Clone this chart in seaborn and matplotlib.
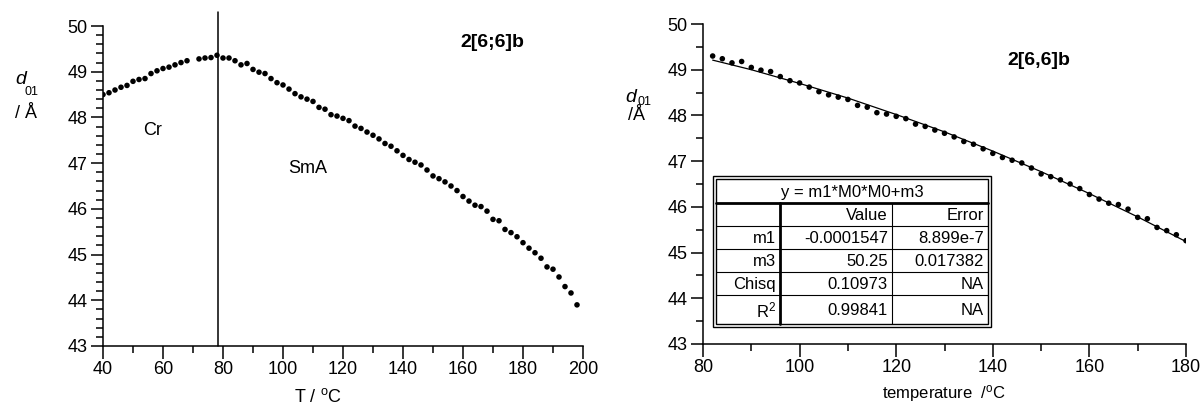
import numpy as np
import pandas as pd
import matplotlib
matplotlib.use("Agg")
import matplotlib.pyplot as plt
from matplotlib.ticker import MultipleLocator
import seaborn as sns

# temperature (°C) and layer spacing d01 (Å)
temp = [40, 42, 44, 46, 48, 50, 52, 54, 56, 58, 60, 62, 64, 66, 68,
        72, 74, 76, 78, 80, 82, 84, 86, 88, 90, 92, 94, 96, 98, 100,
        102, 104, 106, 108, 110, 112, 114, 116, 118, 120, 122, 124, 126, 128, 130,
        132, 134, 136, 138, 140, 142, 144, 146, 148, 150, 152, 154, 156, 158, 160,
        162, 164, 166, 168, 170, 172, 174, 176, 178, 180, 182, 184, 186, 188, 190,
        192, 194, 196, 198]
d01 = [48.50, 48.54, 48.60, 48.66, 48.70, 48.79, 48.83, 48.85, 48.96, 49.02,
       49.07, 49.10, 49.15, 49.20, 49.24,
       49.28, 49.30, 49.31, 49.36, 49.30, 49.30, 49.24, 49.15, 49.18, 49.05,
       48.99, 48.96, 48.85, 48.76, 48.71,
       48.62, 48.52, 48.45, 48.40, 48.35, 48.22, 48.18, 48.06, 48.03, 47.98,
       47.93, 47.81, 47.76, 47.68, 47.61,
       47.53, 47.43, 47.37, 47.27, 47.17, 47.08, 47.02, 46.96, 46.85, 46.72,
       46.66, 46.59, 46.50, 46.40, 46.27,
       46.17, 46.08, 46.05, 45.95, 45.77, 45.74, 45.55, 45.48, 45.39, 45.26,
       45.14, 45.04, 44.92, 44.73, 44.68,
       44.51, 44.30, 44.16, 43.90]

# Cr / SmA transition
t_trans = 78.3

# fitted curve in the right panel
fit_t = [82, 90, 100, 110, 120, 130, 140, 150, 160, 170, 180]
fit_d = [49.21, 49.00, 48.70, 48.38, 48.02, 47.64, 47.22, 46.77, 46.29, 45.78, 45.24]

# fit results table
fit_title = "y = m1*M0*M0+m3"
col_heads = ["", "Value", "Error"]
row_names = ["m1", "m3", "Chisq", "R$^2$"]
row_values = ["-0.0001547", "50.25", "0.10973", "0.99841"]
row_errors = ["8.899e-7", "0.017382", "NA", "NA"]

df = pd.DataFrame({"T": temp, "d": d01})
df_fit = df[(df["T"] >= 82) & (df["T"] <= 180)]
curve = pd.DataFrame({"T": fit_t, "d": fit_d})

sns.set_style("ticks")
plt.rcParams["font.family"] = ["Liberation Sans", "DejaVu Sans"]
plt.rcParams["mathtext.fontset"] = "custom"
plt.rcParams["mathtext.rm"] = "Liberation Sans"
plt.rcParams["mathtext.it"] = "Liberation Sans:italic"
plt.rcParams["mathtext.bf"] = "Liberation Sans:bold"
plt.rcParams["text.color"] = "black"
plt.rcParams["axes.labelcolor"] = "black"

W, H = 1202, 409
fig = plt.figure(figsize=(W / 100, H / 100), dpi=100)


def px_axes(x0, x1, top, bottom):
    return fig.add_axes([x0 / W, (H - bottom) / H, (x1 - x0) / W, (bottom - top) / H])


def style_axes(ax, xmaj, xmin, ymaj, ymin):
    sns.despine(ax=ax)
    for s in ["left", "bottom"]:
        ax.spines[s].set_linewidth(1.1)
        ax.spines[s].set_color("black")
    ax.xaxis.set_major_locator(MultipleLocator(xmaj))
    ax.xaxis.set_minor_locator(MultipleLocator(xmin))
    ax.yaxis.set_major_locator(MultipleLocator(ymaj))
    ax.yaxis.set_minor_locator(MultipleLocator(ymin))
    ax.tick_params(which="major", direction="out", length=9, width=1.1,
                   labelsize=13, colors="black", pad=2)
    ax.tick_params(which="minor", direction="out", length=5, width=1.1, colors="black")
    ax.set_xlabel("")
    ax.set_ylabel("")


# left panel
ax1 = px_axes(103, 583, 26, 346)
sns.scatterplot(data=df, x="T", y="d", ax=ax1, color="black", s=16,
                edgecolor="none", legend=False)
ax1.set_xlim(40, 200)
ax1.set_ylim(43, 50)
ax1.axvline(t_trans, ymin=0, ymax=1.044, color="black", lw=1.1, clip_on=False)
style_axes(ax1, 20, 10, 1, 0.2)
ax1.text(159, 49.63, "2[6;6]b", fontsize=14, fontweight="bold", va="center")
ax1.text(53.3, 47.72, "Cr", fontsize=13, va="center")
ax1.text(101.7, 46.89, "SmA", fontsize=13, va="center")

# right panel
ax2 = px_axes(703, 1186, 24, 344)
sns.lineplot(data=curve, x="T", y="d", ax=ax2, color="black", lw=0.9)
sns.scatterplot(data=df_fit, x="T", y="d", ax=ax2, color="black", s=16,
                edgecolor="none", legend=False, zorder=3)
ax2.set_xlim(80, 180)
ax2.set_ylim(43, 50)
style_axes(ax2, 20, 10, 1, 0.5)
ax2.text(143.1, 49.21, "2[6,6]b", fontsize=14, fontweight="bold", va="center")

# overlay for labels and the fit table, in pixel units
ov = fig.add_axes([0, 0, 1, 1], zorder=5)
ov.set_xlim(0, W)
ov.set_ylim(H, 0)
ov.axis("off")

ov.text(21, 79, "d", fontsize=14, style="italic", ha="center", va="center")
ov.text(31.5, 92, "01", fontsize=9, ha="center", va="center")
ov.text(26, 113, "/ Å", fontsize=13, ha="center", va="center")
ov.text(318, 397, "T / $^{\\mathrm{o}}$C", fontsize=13, ha="center", va="center")

ov.text(631, 98, "d", fontsize=14, style="italic", ha="center", va="center")
ov.text(645, 102, "01", fontsize=9, ha="center", va="center")
ov.text(637, 115, "/Å", fontsize=13, ha="center", va="center")
ov.text(944, 393, "temperature  /$^{\\mathrm{o}}$C", fontsize=12, ha="center", va="center")

# table
tx0, tx1, ty0, ty1 = 713, 991, 176, 327
ov.add_patch(plt.Rectangle((tx0, ty0), tx1 - tx0, ty1 - ty0, fc="white", ec="black", lw=1.0))
ov.add_patch(plt.Rectangle((tx0 + 3, ty0 + 3), tx1 - tx0 - 6, ty1 - ty0 - 6, fc="none", ec="black", lw=1.0))
cols = [716, 780, 892, 988]
rows = [179, 203, 226, 249, 272, 295, 324]
ov.plot([cols[0], cols[3]], [rows[1], rows[1]], color="black", lw=2.0)
for r in rows[2:-1]:
    ov.plot([cols[0], cols[3]], [r, r], color="black", lw=0.8)
ov.plot([cols[1], cols[1]], [rows[1], rows[-1]], color="black", lw=2.0)
ov.plot([cols[2], cols[2]], [rows[1], rows[-1]], color="black", lw=0.8)

ov.text((cols[0] + cols[3]) / 2, (rows[0] + rows[1]) / 2 + 1, fit_title,
        fontsize=12, ha="center", va="center")
for j, h in enumerate(col_heads):
    ov.text(cols[j + 1] - 4, (rows[1] + rows[2]) / 2 + 1, h, fontsize=12, ha="right", va="center")
for i in range(len(row_names)):
    yc = (rows[i + 2] + rows[i + 3]) / 2 + 1
    ov.text(cols[1] - 4, yc, row_names[i], fontsize=12, ha="right", va="center")
    ov.text(cols[2] - 4, yc, row_values[i], fontsize=12, ha="right", va="center")
    ov.text(cols[3] - 4, yc, row_errors[i], fontsize=12, ha="right", va="center")

fig.savefig("out.png", dpi=100)
